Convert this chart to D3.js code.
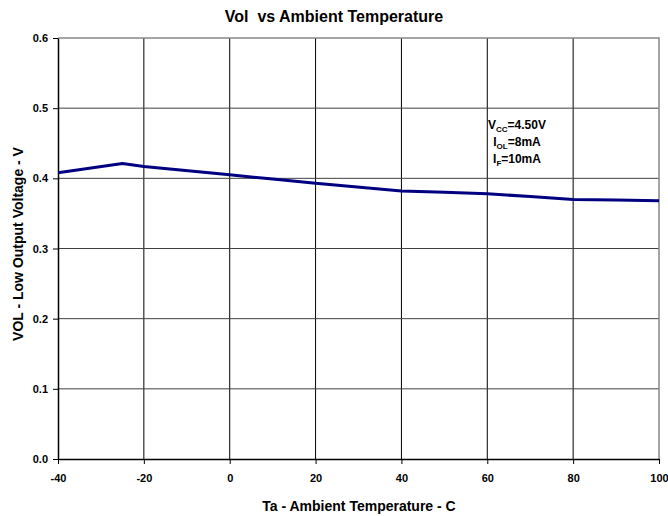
<!DOCTYPE html>
<html>
<head>
<meta charset="utf-8">
<script src="https://cdn.jsdelivr.net/npm/d3@7"></script>
<style>
  body { margin: 0; background: #fff; }
  text { font-family: "Liberation Sans", Arial, sans-serif; font-weight: bold; }
</style>
</head>
<body>
<div id="chart"></div>
<script>
// data
const temps = [-40, -25, -20, 0, 10, 20, 40, 50, 60, 70, 80, 90, 100];
const vol = [0.408, 0.421, 0.417, 0.405, 0.399, 0.393, 0.382, 0.380, 0.378, 0.374, 0.370, 0.369, 0.368];
const xTicks = [-40, -20, 0, 20, 40, 60, 80, 100];
const yTicks = [0, 0.1, 0.2, 0.3, 0.4, 0.5, 0.6];
const notes = [
  { main: 'V', sub: 'CC', rest: '=4.50V' },
  { main: 'I', sub: 'OL', rest: '=8mA' },
  { main: 'I', sub: 'F', rest: '=10mA' }
];

const W = 668;
const H = 516;
const margin = { top: 38, right: 9, bottom: 57, left: 58 };
const width = W - margin.left - margin.right;
const height = H - margin.top - margin.bottom;

const svg = d3.select('#chart').append('svg')
  .attr('width', W)
  .attr('height', H);

const g = svg.append('g')
  .attr('transform', `translate(${margin.left},${margin.top})`);

const x = d3.scaleLinear().domain([-40, 100]).range([0, width]);
const y = d3.scaleLinear().domain([0, 0.6]).range([height, 0]);

// gridlines
g.selectAll('line.vgrid')
  .data(xTicks.slice(1, -1))
  .enter().append('line')
  .attr('class', 'vgrid')
  .attr('x1', d => x(d)).attr('x2', d => x(d))
  .attr('y1', 0).attr('y2', height)
  .attr('stroke', '#000').attr('stroke-width', 1);

g.selectAll('line.hgrid')
  .data(yTicks.slice(1, -1))
  .enter().append('line')
  .attr('class', 'hgrid')
  .attr('x1', 0).attr('x2', width)
  .attr('y1', d => y(d)).attr('y2', d => y(d))
  .attr('stroke', '#404040').attr('stroke-width', 1);

// plot border top / right (gray)
g.append('path')
  .attr('d', `M0,${y(0.6)}H${width}V${height}`)
  .attr('fill', 'none')
  .attr('stroke', '#888')
  .attr('stroke-width', 1.5);

// axes
const xAxis = g.append('g')
  .attr('transform', `translate(0,${height})`)
  .call(d3.axisBottom(x).tickValues(xTicks).tickSize(5).tickSizeOuter(0).tickPadding(10)
    .tickFormat(d => String(d)));
const yAxis = g.append('g')
  .call(d3.axisLeft(y).tickValues(yTicks).tickSize(5).tickSizeOuter(0).tickPadding(5)
    .tickFormat(d3.format('.1f')));

[xAxis, yAxis].forEach((a) => {
  a.select('.domain').attr('stroke', '#000').attr('stroke-width', 1.5);
  a.selectAll('.tick line').attr('stroke', '#000');
  a.selectAll('.tick text')
    .attr('fill', '#000')
    .style('font-size', '11px')
    .style('font-family', '"Liberation Sans", Arial, sans-serif')
    .style('font-weight', 'bold');
});

// the curve
const line = d3.line()
  .x((d, i) => x(temps[i]))
  .y(d => y(d));

g.append('path')
  .datum(vol)
  .attr('d', line)
  .attr('fill', 'none')
  .attr('stroke', '#000080')
  .attr('stroke-width', 3)
  .attr('stroke-linejoin', 'round');

// conditions box
const noteY = [125, 142, 159];
notes.forEach((n, i) => {
  const t = svg.append('text')
    .attr('x', 517)
    .attr('y', noteY[i] + 4)
    .attr('text-anchor', 'middle')
    .style('font-size', '12px');
  t.append('tspan').text(n.main);
  t.append('tspan').text(n.sub).attr('dy', 3).style('font-size', '8px');
  t.append('tspan').text(n.rest).attr('dy', -3);
});

// titles
svg.append('text')
  .attr('x', 334).attr('y', 22)
  .attr('text-anchor', 'middle')
  .style('font-size', '16px')
  .style('white-space', 'pre')
  .text('Vol  vs Ambient Temperature');

svg.append('text')
  .attr('x', 359).attr('y', 511)
  .attr('text-anchor', 'middle')
  .style('font-size', '14px')
  .text('Ta - Ambient Temperature - C');

svg.append('text')
  .attr('transform', 'translate(23,244) rotate(-90)')
  .attr('text-anchor', 'middle')
  .style('font-size', '14px')
  .text('VOL - Low Output Voltage - V');
</script>
</body>
</html>
